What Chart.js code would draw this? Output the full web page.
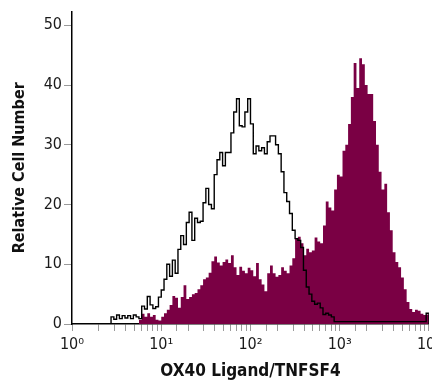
<!DOCTYPE html>
<html lang="en">

<head>
    <meta charset="UTF-8">
    <title>OX40 Ligand/TNFSF4</title>
    <script src="https://cdn.jsdelivr.net/npm/chart.js"></script>
    <style>
        html, body {
            margin: 0;
            padding: 0;
            background: #fff;
            overflow: hidden;
        }

        .grafico {
            width: 445px;
            height: 382px;
        }
    </style>
</head>

<body>
    <div class="grafico">
        <canvas id="myChart"></canvas>
    </div>
</body>

</html>
<script>

    // histogram channels: 32 per decade, log axis from 10^0 to 10^4
    const binsPerDecade = 32;

    // isotype control (open, black outline)
    const openStart = 14;
    const openCounts = [
        1.2, 0.8, 1.5, 0.9, 1.4, 1.0, 1.4, 0.9, 1.5, 1.2,
        0.9, 3.0, 2.5, 4.6, 3.2, 2.6, 2.9, 4.5, 5.7, 7.5,
        10.0, 8.0, 10.7, 8.5, 12.5, 14.8, 13.3, 17.0, 18.7, 14.0,
        17.7, 17.0, 17.2, 20.3, 22.7, 20.0, 19.3, 25.0, 27.5, 28.7,
        26.5, 28.7, 28.7, 32.0, 35.5, 37.7, 33.2, 33.0, 35.5, 37.7,
        33.5, 28.5, 29.8, 29.0, 29.5, 28.5, 30.5, 31.5, 31.5, 30.0,
        28.5, 25.5, 22.0, 20.5, 18.5, 15.7, 14.3, 14.0, 12.8, 9.0,
        6.2, 5.0, 3.8, 3.3, 3.5, 2.7, 1.6, 1.8, 1.5, 1.2,
        0.4, 0.4, 0.4, 0.4, 0.4, 0.4, 0.4, 0.4, 0.4, 0.4,
        0.4, 0.4, 0.4, 0.4, 0.4, 0.4, 0.4, 0.4, 0.4, 0.4,
        0.4, 0.4, 0.4, 0.4, 0.4, 0.4, 0.4, 0.4, 0.4, 0.4,
        0.4, 0.4, 0.4, 1.8
    ];

    // OX40 Ligand stained cells (filled)
    const filledStart = 24;
    const filledCounts = [
        0.7, 1.7, 1.2, 1.8, 1.2, 1.5, 0.7, 0.6, 1.2, 1.8,
        2.4, 3.2, 4.7, 4.4, 2.7, 4.5, 6.5, 4.2, 4.5, 5.0,
        5.2, 5.8, 6.5, 7.5, 7.8, 8.6, 10.5, 11.3, 10.3, 9.8,
        10.4, 10.8, 10.2, 11.5, 9.5, 8.2, 9.6, 8.9, 8.5, 9.4,
        9.0, 8.0, 10.2, 7.5, 6.6, 5.5, 8.5, 9.8, 8.5, 7.9,
        8.2, 9.5, 8.9, 8.5, 9.8, 11.0, 14.3, 14.6, 13.5, 11.5,
        12.6, 12.0, 12.3, 14.5, 13.8, 13.5, 16.5, 20.5, 19.5, 19.0,
        22.5, 25.0, 24.7, 29.0, 30.0, 33.5, 38.0, 43.7, 39.5, 44.5,
        43.5, 40.0, 38.5, 38.5, 34.0, 30.0, 25.5, 22.5, 23.5, 18.7,
        15.7, 12.0, 10.4, 9.5, 7.8, 5.8, 3.7, 2.5, 2.0, 2.4,
        2.2, 1.7, 1.5, 1.6
    ];

    const yTicks = [0, 10, 20, 30, 40, 50];
    const xTickLabels = ['10\u2070', '10\u00b9', '10\u00b2', '10\u00b3', '10\u2074'];

    function pontos(start, counts) {
        var lista = [{ x: Math.pow(10, start / binsPerDecade), y: 0 }];
        for (var i = 0; i < counts.length; i++) {
            lista.push({ x: Math.pow(10, (start + i) / binsPerDecade), y: counts[i] });
        }
        lista.push({ x: Math.pow(10, (start + counts.length) / binsPerDecade), y: 0 });
        return lista;
    }

    const fonte = "'Liberation Sans Narrow', 'DejaVu Sans Condensed', sans-serif";
    Chart.defaults.font.family = fonte;
    Chart.defaults.color = '#1a1a1a';

    const ctx = document.getElementById('myChart');

    new Chart(ctx, {
        type: 'line',
        data: {
            datasets: [{
                data: pontos(openStart, openCounts),
                borderColor: '#000',
                borderWidth: 1.4,
                stepped: true,
                fill: false,
                pointRadius: 0,
                order: 0
            }, {
                data: pontos(filledStart, filledCounts),
                borderColor: '#7a0044',
                borderWidth: 0,
                backgroundColor: '#7a0044',
                stepped: true,
                fill: 'origin',
                pointRadius: 0,
                order: 1
            }]
        },
        options: {
            responsive: true,
            maintainAspectRatio: false,
            animation: false,
            layout: {
                padding: { top: 10, left: 0, right: 0, bottom: 0 }
            },
            plugins: {
                legend: { display: false },
                tooltip: { enabled: false }
            },
            scales: {
                x: {
                    type: 'logarithmic',
                    min: 1,
                    max: 10000,
                    afterFit: function (scale) { scale.height = 58; },
                    border: { color: '#000', width: 1.5 },
                    grid: {
                        drawOnChartArea: false,
                        tickLength: 7,
                        tickColor: '#9a9a9a'
                    },
                    ticks: {
                        autoSkip: false,
                        maxRotation: 0,
                        padding: 4,
                        font: { size: 16 },
                        callback: function (value) {
                            var p = Math.log10(value);
                            if (Math.abs(p - Math.round(p)) < 1e-6) {
                                return xTickLabels[Math.round(p)];
                            }
                            return '';
                        }
                    },
                    title: {
                        display: true,
                        text: 'OX40 Ligand/TNFSF4',
                        font: { size: 17, weight: 'bold' },
                        color: '#111',
                        padding: { top: 2, bottom: 0 }
                    }
                },
                y: {
                    min: 0,
                    max: 52.3,
                    afterFit: function (scale) { scale.width = 72; },
                    afterBuildTicks: function (scale) {
                        scale.ticks = yTicks.map(function (v) { return { value: v }; });
                    },
                    border: { color: '#000', width: 1.5 },
                    grid: {
                        drawOnChartArea: false,
                        tickLength: 8,
                        tickColor: '#9a9a9a'
                    },
                    ticks: {
                        padding: 2,
                        font: { size: 16 }
                    },
                    title: {
                        display: true,
                        text: 'Relative Cell Number',
                        font: { size: 16, weight: 'bold' },
                        color: '#111',
                        padding: { top: 10, bottom: 0 }
                    }
                }
            }
        }
    });
</script>
